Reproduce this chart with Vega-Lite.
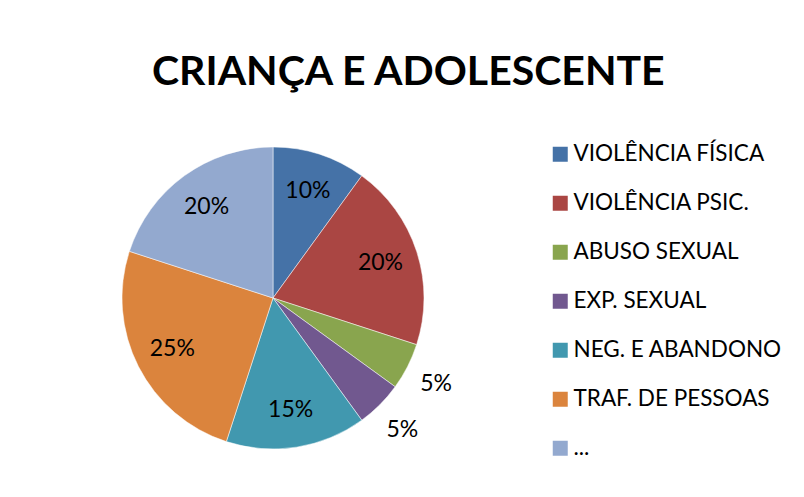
{
  "$schema": "https://vega.github.io/schema/vega-lite/v6.json",
  "autosize": {"type": "none"},
  "width": 546,
  "height": 302,
  "padding": {"left": 0, "top": 147, "right": 258, "bottom": 48},
  "background": "white",
  "config": {"view": {"stroke": null}, "font": "Lato"},
  "title": {
    "text": "CRIANÇA E ADOLESCENTE",
    "font": "Lato",
    "fontSize": 41,
    "fontWeight": "bold",
    "color": "black",
    "anchor": "start",
    "dx": 152,
    "offset": 22
  },
  "data": {
    "values": [
      {"ordem": 1, "categoria": "VIOLÊNCIA FÍSICA", "valor": 0.10},
      {"ordem": 2, "categoria": "VIOLÊNCIA PSIC.", "valor": 0.20},
      {"ordem": 3, "categoria": "ABUSO SEXUAL", "valor": 0.05},
      {"ordem": 4, "categoria": "EXP. SEXUAL", "valor": 0.05},
      {"ordem": 5, "categoria": "NEG. E ABANDONO", "valor": 0.15},
      {"ordem": 6, "categoria": "TRAF. DE PESSOAS", "valor": 0.25},
      {"ordem": 7, "categoria": "...", "valor": 0.20}
    ]
  },
  "encoding": {
    "theta": {"field": "valor", "type": "quantitative", "stack": true},
    "order": {"field": "ordem", "type": "quantitative"},
    "color": {
      "field": "categoria",
      "type": "nominal",
      "sort": ["VIOLÊNCIA FÍSICA", "VIOLÊNCIA PSIC.", "ABUSO SEXUAL", "EXP. SEXUAL", "NEG. E ABANDONO", "TRAF. DE PESSOAS", "..."],
      "scale": {
        "domain": ["VIOLÊNCIA FÍSICA", "VIOLÊNCIA PSIC.", "ABUSO SEXUAL", "EXP. SEXUAL", "NEG. E ABANDONO", "TRAF. DE PESSOAS", "..."],
        "range": ["#4572A7", "#AA4643", "#89A54E", "#71588F", "#4198AF", "#DB843D", "#93A9CF"]
      },
      "legend": {
        "title": null,
        "orient": "none",
        "legendX": 549,
        "legendY": -4,
        "symbolType": "square",
        "symbolSize": 225,
        "symbolStrokeWidth": 0,
        "labelFont": "Lato",
        "labelFontSize": 22.5,
        "labelColor": "black",
        "labelOffset": 2,
        "rowPadding": 26,
        "labelLimit": 300
      }
    }
  },
  "layer": [
    {"mark": {"type": "arc", "stroke": "white", "strokeWidth": 0.5}},
    {
      "mark": {"type": "text", "radius": 113, "font": "Lato", "fontSize": 23},
      "encoding": {
        "text": {"condition": {"test": "datum.valor < 0.1", "value": ""}, "field": "valor", "type": "quantitative", "format": ".0%"},
        "color": {"value": "black"}
      }
    },
    {
      "mark": {"type": "text", "radius": 183, "font": "Lato", "fontSize": 23, "dy": 3},
      "encoding": {
        "text": {"condition": {"test": "datum.valor >= 0.1", "value": ""}, "field": "valor", "type": "quantitative", "format": ".0%"},
        "color": {"value": "black"}
      }
    }
  ]
}
